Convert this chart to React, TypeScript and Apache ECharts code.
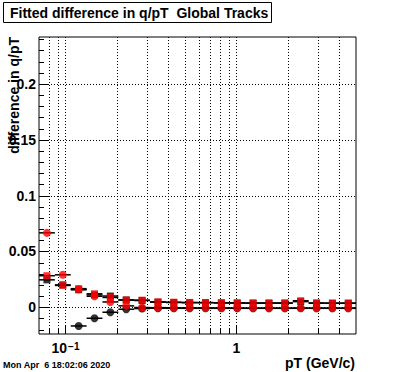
import React, { useEffect, useRef } from 'react';
import * as echarts from 'echarts';

// pT bins (GeV/c): 20 logarithmic bins between 0.07 and 5
const PT_EDGES = [0.07, 0.0867, 0.1073, 0.1329, 0.1645, 0.2037, 0.2522, 0.3122, 0.3866, 0.4786, 0.5926, 0.7337, 0.9084, 1.1247, 1.3925, 1.7241, 2.1347, 2.643, 3.2724, 4.0517, 5.0];
const PT_CENTERS = [0.0779, 0.0964, 0.1194, 0.1478, 0.183, 0.2266, 0.2805, 0.3473, 0.43, 0.5324, 0.6592, 0.8161, 1.0104, 1.251, 1.5489, 1.9177, 2.3743, 2.9397, 3.6397, 4.5063];

// Fitted difference in q/pT
const RED_CIRCLES = [0.0666, 0.029, 0.016, 0.0098, 0.0047, 0.0012, -0.0003, -0.0004, -0.0005, -0.0006, -0.0006, -0.0007, -0.0008, -0.0008, -0.0008, -0.0008, -0.0007, -0.0008, -0.0008, -0.0008];
const RED_SQUARES = [0.0282, 0.0195, 0.0166, 0.012, 0.0087, 0.0064, 0.0063, 0.0048, 0.0045, 0.0043, 0.0042, 0.004, 0.004, 0.0038, 0.0038, 0.0038, 0.0058, 0.0038, 0.0037, 0.0037];
const BLACK_CIRCLES = [null, null, -0.0168, -0.0099, -0.0045, -0.0018, -0.0012, -0.0009, -0.001, -0.001, -0.001, -0.001, -0.001, -0.001, -0.001, -0.001, -0.001, -0.001, -0.001, -0.001];
const BLACK_SQUARES = [0.0245, 0.02, 0.0156, 0.011, 0.01, 0.0065, 0.006, 0.0045, 0.0042, 0.004, 0.004, 0.0038, 0.0036, 0.0036, 0.0036, 0.0036, 0.005, 0.0036, 0.0035, 0.0035];

// Axes
const X_MIN = 0.07;
const X_MAX = 5;
const Y_MIN = -0.024;
const Y_MAX = 0.242;
const X_LABELS = [0.1, 1];
const X_MAJOR_TICKS = [0.1, 1];
const X_MINOR_TICKS = [0.08, 0.09, 0.2, 0.3, 0.4, 0.5, 0.6, 0.7, 0.8, 0.9, 2, 3, 4];
const Y_LABELS = [0, 0.05, 0.1, 0.15, 0.2];
const Y_MINOR_TICKS = [-0.02, -0.01, 0.01, 0.02, 0.03, 0.04, 0.06, 0.07, 0.08, 0.09, 0.11, 0.12, 0.13, 0.14, 0.16, 0.17, 0.18, 0.19, 0.21, 0.22, 0.23, 0.24];

const TITLE = 'Fitted difference in q/pT  Global Tracks';
const X_TITLE = 'pT (GeV/c)';
const Y_TITLE = 'difference in q/pT';
const STAMP = 'Mon Apr  6 18:02:06 2020';

const FONT = '"Liberation Sans", Arial, Helvetica, sans-serif';

function points(vals: (number | null)[]) {
  const out: number[][] = [];
  vals.forEach((v, i) => {
    if (v !== null) out.push([PT_CENTERS[i], v]);
  });
  return out;
}

function bars(vals: (number | null)[]) {
  const out: number[][] = [];
  vals.forEach((v, i) => {
    if (v !== null) out.push([PT_EDGES[i], PT_EDGES[i + 1], v]);
  });
  return out;
}

export default function App() {
  const ref = useRef<HTMLDivElement>(null);

  useEffect(() => {
    if (!ref.current) return;
    const chart = echarts.init(ref.current, null, { renderer: 'svg' });

    const xTickData = [
      ...X_MAJOR_TICKS.map((v) => [v, 0, 1]),
      ...X_MINOR_TICKS.map((v) => [v, 0, 0]),
    ];
    const yTickData = [
      ...Y_LABELS.map((v) => [1, v, 1]),
      ...Y_MINOR_TICKS.map((v) => [1, v, 0]),
    ];

    const errData = [
      ...bars(BLACK_CIRCLES),
      ...bars(BLACK_SQUARES),
      ...bars(RED_SQUARES),
      ...bars(RED_CIRCLES),
    ];

    const option: any = {
      animation: false,
      backgroundColor: '#fff',
      grid: {
        left: 39,
        top: 37,
        width: 317,
        height: 297,
        show: true,
        borderColor: '#000',
        borderWidth: 1,
        backgroundColor: 'transparent',
      },
      xAxis: {
        type: 'log',
        logBase: 10,
        min: X_MIN,
        max: X_MAX,
        axisLine: { show: false },
        axisTick: { show: false },
        splitLine: { show: false },
        minorTick: { show: false },
        axisLabel: {
          customValues: X_LABELS,
          margin: 7,
          color: '#000',
          fontFamily: FONT,
          fontWeight: 'bold',
          fontSize: 14,
          formatter: (v: number) => (Math.abs(v - 0.1) < 1e-6 ? '{b|10}{s|−1}' : '{b|1}'),
          rich: {
            b: { fontFamily: FONT, fontWeight: 'bold', fontSize: 14, lineHeight: 14, verticalAlign: 'bottom', padding: [5, 0, 0, 0] },
            s: { fontFamily: FONT, fontWeight: 'bold', fontSize: 10, lineHeight: 10, verticalAlign: 'top', padding: [0, 0, 0, 1] },
          },
        },
      },
      yAxis: {
        type: 'value',
        min: Y_MIN,
        max: Y_MAX,
        axisLine: { show: false },
        axisTick: { show: false },
        splitLine: { show: false },
        axisLabel: {
          customValues: Y_LABELS,
          margin: 3,
          color: '#000',
          fontFamily: FONT,
          fontWeight: 'bold',
          fontSize: 14,
          formatter: (v: number) => String(v),
        },
      },
      graphic: [
        {
          type: 'rect',
          shape: { x: 3.5, y: 2.5, width: 268, height: 20 },
          style: { fill: '#fff', stroke: '#000', lineWidth: 1 },
          z: 10,
        },
        {
          type: 'text',
          x: 10,
          y: 13,
          style: { text: TITLE, fill: '#000', font: `bold 14px ${FONT}`, textAlign: 'left', textVerticalAlign: 'middle' },
          z: 11,
        },
        {
          type: 'text',
          x: 14,
          y: 37,
          rotation: Math.PI / 2,
          style: { text: Y_TITLE, fill: '#000', font: `bold 14px ${FONT}`, textAlign: 'right', textVerticalAlign: 'middle' },
          z: 11,
        },
        {
          type: 'text',
          x: 355,
          y: 363,
          style: { text: X_TITLE, fill: '#000', font: `bold 14px ${FONT}`, textAlign: 'right', textVerticalAlign: 'middle' },
          z: 11,
        },
        {
          type: 'text',
          x: 3,
          y: 365,
          style: { text: STAMP, fill: '#000', font: `bold 9px ${FONT}`, textAlign: 'left', textVerticalAlign: 'middle' },
          z: 11,
        },
      ],
      series: [
        {
          type: 'custom',
          name: 'xgrid',
          z: 1,
          silent: true,
          clip: false,
          data: xTickData,
          encode: { x: 0, y: 1 },
          renderItem: (params: any, api: any) => {
            const cs = params.coordSys;
            const x = Math.round(api.coord([api.value(0), 0])[0]) + 0.5;
            const major = api.value(2) === 1;
            const bottom = cs.y + cs.height;
            return {
              type: 'group',
              children: [
                { type: 'line', shape: { x1: x, y1: cs.y, x2: x, y2: bottom }, style: { stroke: '#000', lineWidth: 1, lineDash: [1, 2] } },
                { type: 'line', shape: { x1: x, y1: bottom, x2: x, y2: bottom - (major ? 9 : 5) }, style: { stroke: '#000', lineWidth: 1 } },
              ],
            };
          },
        },
        {
          type: 'custom',
          name: 'ygrid',
          z: 1,
          silent: true,
          clip: false,
          data: yTickData,
          encode: { x: 0, y: 1 },
          renderItem: (params: any, api: any) => {
            const cs = params.coordSys;
            const y = Math.round(api.coord([1, api.value(1)])[1]) + 0.5;
            const major = api.value(2) === 1;
            const children: any[] = [
              { type: 'line', shape: { x1: cs.x, y1: y, x2: cs.x + (major ? 9 : 5), y2: y }, style: { stroke: '#000', lineWidth: 1 } },
            ];
            if (major) {
              children.push({ type: 'line', shape: { x1: cs.x, y1: y, x2: cs.x + cs.width, y2: y }, style: { stroke: '#000', lineWidth: 1, lineDash: [1, 2] } });
            }
            return { type: 'group', children };
          },
        },
        {
          type: 'custom',
          name: 'errors',
          z: 2,
          silent: true,
          data: errData,
          encode: { x: [0, 1], y: 2 },
          renderItem: (params: any, api: any) => {
            const yv = api.value(2);
            const a = api.coord([api.value(0), yv]);
            const b = api.coord([api.value(1), yv]);
            return {
              type: 'line',
              shape: { x1: a[0], y1: a[1], x2: b[0], y2: b[1] },
              style: { stroke: '#000', lineWidth: 1.5 },
            };
          },
        },
        {
          type: 'scatter',
          name: 'black circles',
          z: 3,
          symbol: 'circle',
          symbolSize: 8,
          itemStyle: { color: '#000' },
          data: points(BLACK_CIRCLES),
        },
        {
          type: 'scatter',
          name: 'black squares',
          z: 3,
          symbol: 'rect',
          symbolSize: 7,
          itemStyle: { color: '#000' },
          data: points(BLACK_SQUARES),
        },
        {
          type: 'scatter',
          name: 'red squares',
          z: 3,
          symbol: 'rect',
          symbolSize: 7,
          itemStyle: { color: '#ff0000' },
          data: points(RED_SQUARES),
        },
        {
          type: 'scatter',
          name: 'red circles',
          z: 3,
          symbol: 'circle',
          symbolSize: 8,
          itemStyle: { color: '#ff0000' },
          data: points(RED_CIRCLES),
        },
      ],
    };

    chart.setOption(option);
    return () => chart.dispose();
  }, []);

  return (
    <div
      ref={ref}
      style={{ position: 'fixed', left: 0, top: 0, width: 396, height: 372, background: '#fff' }}
    />
  );
}
